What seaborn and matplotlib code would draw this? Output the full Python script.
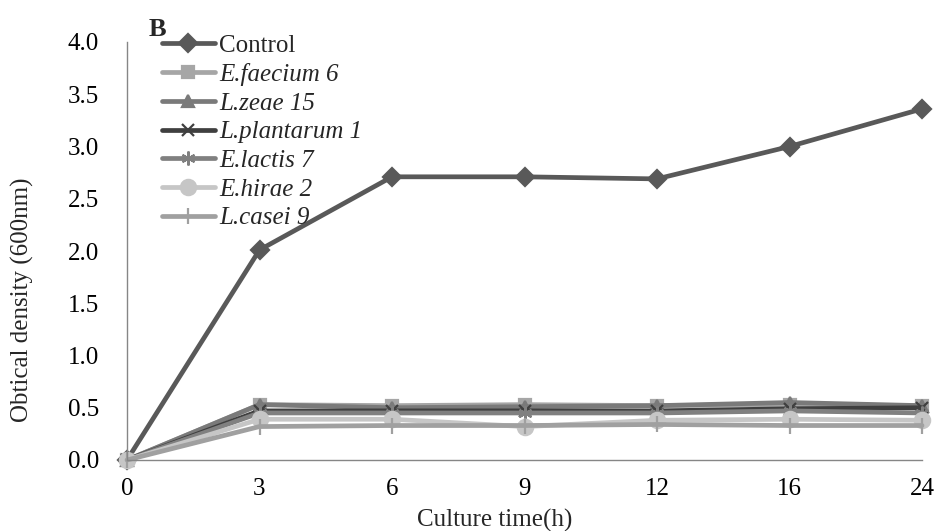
import numpy as np
import pandas as pd
import matplotlib
matplotlib.use("Agg")
import matplotlib.pyplot as plt
import seaborn as sns

time_labels = ["0", "3", "6", "9", "12", "16", "24"]
control = [0.0, 2.01, 2.71, 2.71, 2.69, 3.00, 3.36]
e_faecium6 = [0.0, 0.53, 0.52, 0.53, 0.52, 0.53, 0.52]
l_zeae15 = [0.0, 0.53, 0.50, 0.51, 0.52, 0.55, 0.52]
l_plantarum1 = [0.0, 0.47, 0.47, 0.47, 0.47, 0.49, 0.50]
e_lactis7 = [0.0, 0.45, 0.45, 0.45, 0.45, 0.47, 0.45]
e_hirae2 = [0.0, 0.39, 0.39, 0.32, 0.38, 0.39, 0.38]
l_casei9 = [0.0, 0.32, 0.33, 0.33, 0.34, 0.33, 0.33]

series_names = ["Control", "E.faecium 6", "L.zeae 15", "L.plantarum 1",
                "E.lactis 7", "E.hirae 2", "L.casei 9"]
series_values = [control, e_faecium6, l_zeae15, l_plantarum1,
                 e_lactis7, e_hirae2, l_casei9]

colors = ["#595959", "#a6a6a6", "#7a7a7a", "#3f3f3f", "#808080", "#c6c6c6", "#a0a0a0"]
markers = ["D", "s", "^", "x", (6, 2, 0), "o", "|"]
msizes = [9, 9, 9, 9, 10, 11, 11]

sns.set_theme(style="white")
plt.rcParams["font.family"] = ["Liberation Serif", "DejaVu Serif"]

rows = []
for name, vals in zip(series_names, series_values):
    for i, v in enumerate(vals):
        rows.append({"pos": i, "od": v, "series": name})
df = pd.DataFrame(rows)

fig = plt.figure(figsize=(9.36, 5.31), dpi=100)
ax = fig.add_axes([127 / 936, 1 - 460 / 531, (922 - 127) / 936, (460 - 42) / 531])

for name, col, mk, ms in zip(series_names, colors, markers, msizes):
    sub = df[df["series"] == name]
    sns.lineplot(data=sub, x="pos", y="od", ax=ax, color=col, linewidth=3.4,
                 marker=mk, markersize=ms, markeredgecolor=col, markerfacecolor=col,
                 markeredgewidth=1.6, label=name, clip_on=False)

ax.set_xlim(0, len(time_labels) - 1)
ax.set_ylim(0, 4.0)
ax.set_xticks(range(len(time_labels)))
ax.set_xticklabels(time_labels)
ax.set_yticks(np.arange(0, 4.01, 0.5))
ax.set_yticklabels([f"{t:.1f}" for t in np.arange(0, 4.01, 0.5)])
ax.tick_params(axis="both", labelsize=18, colors="#868686", labelcolor="black",
               direction="out", length=5, width=1)
ax.tick_params(axis="x", pad=8)
ax.tick_params(axis="y", pad=15)
for s in ["top", "right"]:
    ax.spines[s].set_visible(False)
for s in ["left", "bottom"]:
    ax.spines[s].set_color("#868686")
    ax.spines[s].set_linewidth(1)

ax.set_xlabel("Culture time(h)", fontsize=18)
ax.set_ylabel("Obtical density (600nm)", fontsize=18)
ax.xaxis.set_label_coords((495 - 127) / (922 - 127), -(520 - 460) / (460 - 42))
ax.xaxis.label.set_va("center")
ax.yaxis.set_label_coords(-(127 - 22) / (922 - 127), (460 - 300) / (460 - 42))
ax.yaxis.label.set_va("center")

leg = ax.legend(loc="upper left", bbox_to_anchor=((162 - 127) / (922 - 127), 1 + (42 - 34) / 418),
                frameon=False, fontsize=18, handlelength=2.1, handletextpad=0.2,
                labelspacing=0.25, borderaxespad=0, borderpad=0, numpoints=1)
for i, t in enumerate(leg.get_texts()):
    if i > 0:
        t.set_fontstyle("italic")

fig.text(149 / 936, 1 - 29 / 531, "B", fontsize=19, fontweight="bold", va="center", ha="left")

fig.savefig("out.png", dpi=100)
